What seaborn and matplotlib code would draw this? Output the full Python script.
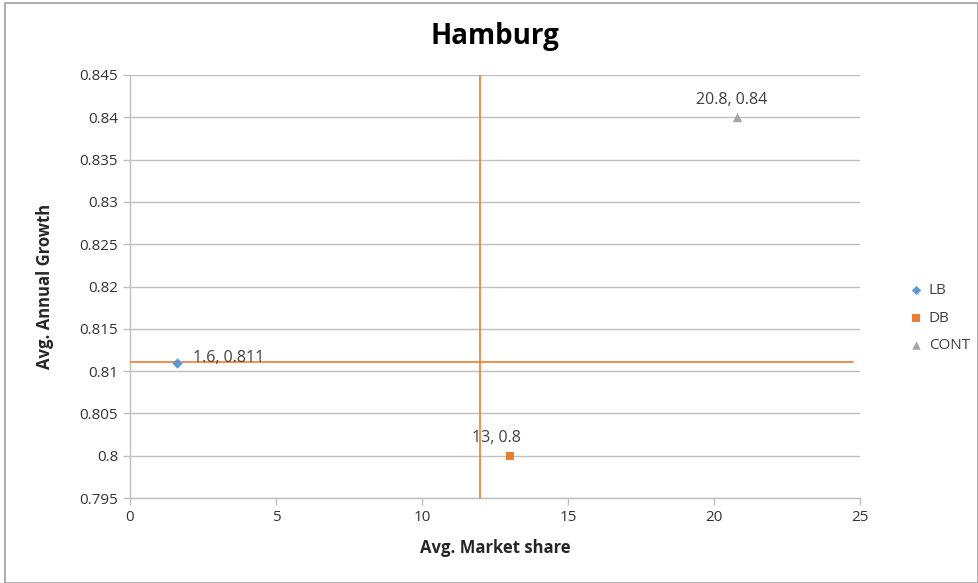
import matplotlib
matplotlib.use("Agg")
import matplotlib.pyplot as plt
import seaborn as sns
import pandas as pd
from matplotlib.patches import Rectangle

series = ["LB", "DB", "CONT"]
market_share = [1.6, 13, 20.8]
annual_growth = [0.811, 0.8, 0.84]
colors = ["#5B9BD5", "#ED7D31", "#A5A5A5"]
markers = ["D", "s", "^"]
marker_sizes = [28, 40, 45]

# reference lines
avg_share = 12
avg_growth = 0.8111
hline_end = 24.75

df = pd.DataFrame({"series": series, "share": market_share, "growth": annual_growth})

sns.set_style("white")
plt.rcParams["font.family"] = ["Open Sans", "DejaVu Sans"]

fig = plt.figure(figsize=(9.79, 5.83), dpi=100)
ax = fig.add_axes([130 / 979, 1 - 498 / 583, 730 / 979, 423 / 583])

for s, c, m, ms in zip(series, colors, markers, marker_sizes):
    sub = df[df["series"] == s]
    sns.scatterplot(data=sub, x="share", y="growth", color=c, marker=m, s=ms,
                    edgecolor=c, linewidth=0, ax=ax, label=s, zorder=5)

ax.axvline(avg_share, color="#ED7D31", lw=1.2, zorder=4)
ax.plot([0, hline_end], [avg_growth, avg_growth], color="#ED7D31", lw=1.2, zorder=4)

# value labels
offsets = [(0.55, 0.0006, "left"), (-1.3, 0.0021, "left"), (-0.2, 0.0020, "center")]
for x, y, (dx, dy, ha) in zip(market_share, annual_growth, offsets):
    ax.text(x + dx, y + dy, f"{x:g}, {y:g}", ha=ha, va="center", fontsize=11.5,
            color="#404040", zorder=6)

ax.set_xlim(0, 25)
ax.set_ylim(0.795, 0.845)
ax.set_xticks([0, 5, 10, 15, 20, 25])
ax.set_yticks([0.795 + 0.005 * i for i in range(11)])
ax.set_yticklabels([f"{0.795 + 0.005 * i:.3f}".rstrip("0").rstrip(".") for i in range(11)])
ax.yaxis.grid(True, color="#BFBFBF", lw=1)
ax.xaxis.grid(False)
for side in ["top", "right"]:
    ax.spines[side].set_visible(False)
for side in ["left", "bottom"]:
    ax.spines[side].set_color("#BFBFBF")
    ax.spines[side].set_linewidth(1)
ax.tick_params(axis="both", labelsize=11, colors="#404040", length=5,
               direction="out", width=1, color="#BFBFBF")
ax.tick_params(axis="both", which="both", bottom=True, left=True)
for lbl in ax.get_xticklabels() + ax.get_yticklabels():
    lbl.set_color("#333333")

ax.set_xlabel("Avg. Market share", fontsize=12, fontweight="bold", color="#262626", labelpad=10)
ax.set_ylabel("Avg. Annual Growth", fontsize=12, fontweight="bold", color="#262626", labelpad=18)
ax.set_title("Hamburg", fontsize=20, fontweight="bold", color="black", pad=22)

leg = ax.legend(loc="center left", bbox_to_anchor=(1.047, 0.4255), frameon=False,
                fontsize=11, handlelength=1.0, handletextpad=0.35, labelspacing=0.8,
                markerscale=0.9)
for t in leg.get_texts():
    t.set_color("#404040")

fig.patches.append(Rectangle((5 / 979, 0), 973 / 979, 1 - 3 / 583, transform=fig.transFigure,
                             fill=False, edgecolor="#A0A0A0", lw=1.2))

fig.savefig("out.png", dpi=100)
